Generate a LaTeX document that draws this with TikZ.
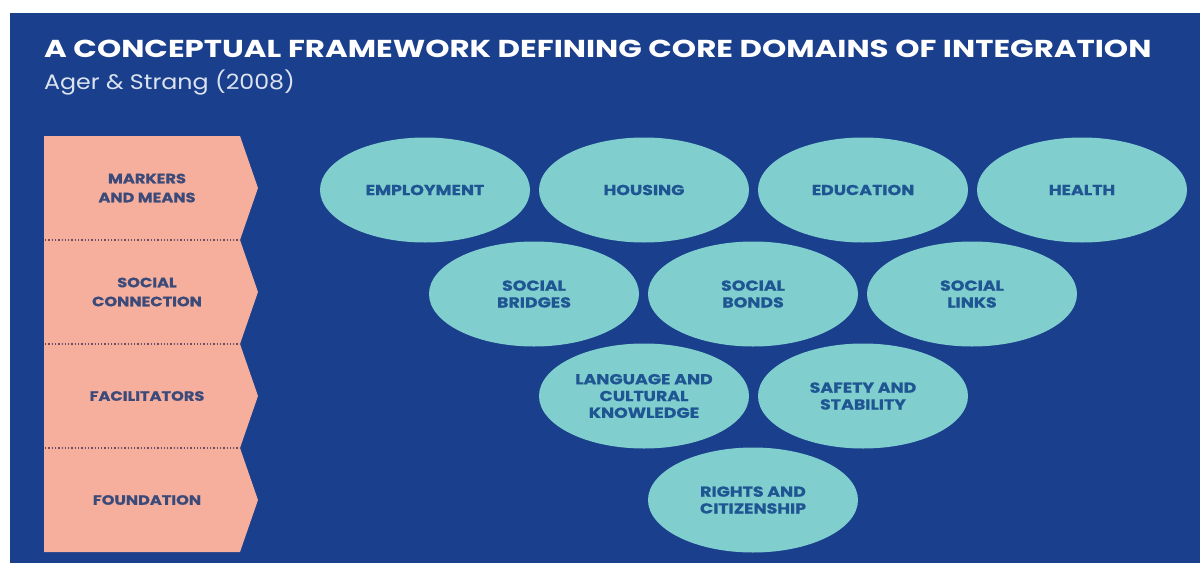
\documentclass[tikz,border=0pt]{standalone}
\usepackage{fontspec}
\setmainfont{Poppins}
\newfontfamily\titlefont[FakeStretch=1.26]{Poppins}
\newfontfamily\citefont[FakeStretch=1.13]{Poppins}
\newfontfamily\labelfont[FakeStretch=1.2,FakeBold=0.6]{Poppins}
\usetikzlibrary{shapes.geometric}
\definecolor{bgblue}{HTML}{1A3F8C}
\definecolor{bandpink}{HTML}{F5AF9C}
\definecolor{bandtext}{HTML}{3C4A7A}
\definecolor{domainfill}{HTML}{80CFCE}
\definecolor{domaintext}{HTML}{1E5592}
\definecolor{dotline}{HTML}{6A4E66}
\definecolor{subtext}{HTML}{DCE3F0}
\tikzset{
  domainnode/.style={ellipse, fill=domainfill, minimum width=210pt, minimum height=105pt,
    inner sep=0pt, align=center, text=domaintext,
    font=\labelfont\fontsize{14.5}{16.8}\selectfont\bfseries},
  bandlabel/.style={align=center, text=bandtext, inner sep=0pt,
    font=\labelfont\fontsize{13.5}{19}\selectfont\bfseries},
  separator/.style={dotline, line width=1.3pt, dotted},
}
\begin{document}
\begin{tikzpicture}[x=1pt,y=-1pt]
\useasboundingbox (0,0) rectangle (1200,563);
% page and panel
\fill[white] (0,0) rectangle (1200,563);
\fill[bgblue] (10,13) rectangle (1200,563);

% heading
\node[anchor=base west, inner sep=0pt, text=white,
  font=\titlefont\fontsize{24.5}{28}\selectfont\bfseries] (title) at (44,57)
  {A CONCEPTUAL FRAMEWORK DEFINING CORE DOMAINS OF INTEGRATION};
\node[anchor=base west, inner sep=0pt, text=subtext,
  font=\citefont\fontsize{21}{24}\selectfont] (cite) at (44,89) {Ager \& Strang (2008)};

% level band with chevron edge
\fill[bandpink] (44,136) -- (240,136) -- (258,188) -- (240,240) -- (258,292)
  -- (240,344) -- (258,396) -- (240,448) -- (258,500) -- (240,552) -- (44,552) -- cycle;
\draw[separator] (45,240) -- (240,240);
\draw[separator] (45,344) -- (240,344);
\draw[separator] (45,448) -- (240,448);

\node[bandlabel] (markers) at (147,188) {MARKERS\\AND MEANS};
\node[bandlabel] (social) at (147,292) {SOCIAL\\CONNECTION};
\node[bandlabel] (facil) at (147,396) {FACILITATORS};
\node[bandlabel] (found) at (147,500) {FOUNDATION};

% domains
\node[domainnode] (employment) at (425,190) {EMPLOYMENT};
\node[domainnode] (housing) at (644,190) {HOUSING};
\node[domainnode] (education) at (863,190) {EDUCATION};
\node[domainnode] (health) at (1082,190) {HEALTH};
\node[domainnode] (bridges) at (534,294) {SOCIAL\\BRIDGES};
\node[domainnode] (bonds) at (753,294) {SOCIAL\\BONDS};
\node[domainnode] (links) at (972,294) {SOCIAL\\LINKS};
\node[domainnode] (language) at (644,396) {LANGUAGE AND\\CULTURAL\\KNOWLEDGE};
\node[domainnode] (safety) at (863,396) {SAFETY AND\\STABILITY};
\node[domainnode] (rights) at (753,500) {RIGHTS AND\\CITIZENSHIP};
\end{tikzpicture}
\end{document}
